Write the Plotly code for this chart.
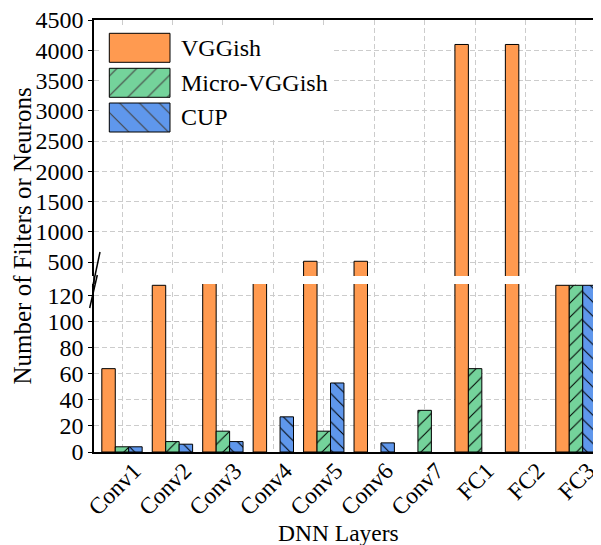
import plotly.graph_objects as go

# ---- data ----
layers = ["Conv1", "Conv2", "Conv3", "Conv4", "Conv5", "Conv6", "Conv7", "FC1", "FC2", "FC3"]
vggish = [64, 128, 256, 256, 512, 512, 0, 4096, 4096, 128]
micro_vggish = [4, 8, 16, 0, 16, 0, 32, 64, 0, 128]
cup = [4, 6, 8, 27, 53, 7, 0, 0, 0, 128]
series_names = ["VGGish", "Micro-VGGish", "CUP"]

low_ticks = [0, 20, 40, 60, 80, 100, 120]
high_ticks = [500, 1000, 1500, 2000, 2500, 3000, 3500, 4000, 4500]

# ---- styling ----
OFF = 8  # page body margin of the browser
W, H = 601 - OFF, 545 - OFF
PLOT_L, PLOT_R, PLOT_T, PLOT_B = 94, 600, 20, 452  # target window pixels
L, R, T, B = PLOT_L - OFF, W - (PLOT_R - OFF), PLOT_T - OFF, H - (PLOT_B - OFF)
PW, PH = W - L - R, H - T - B
FONT = "Liberation Serif"
colors = ["#FF9A50", "#74D39B", "#5F97EC"]
hatches = ["", "/", "\\"]


def px_x(x):
    return (x - PLOT_L) / PW


def px_y(y):
    return (PLOT_B - y) / PH


low_dom = [0, px_y(284)]
high_dom = [px_y(276), 1]

fig = go.Figure()
values = [vggish, micro_vggish, cup]
for xa, ya in [("x", "y"), ("x2", "y2")]:
    for name, vals, col, hat in zip(series_names, values, colors, hatches):
        fig.add_trace(go.Bar(
            x=layers, y=vals, name=name, xaxis=xa, yaxis=ya, showlegend=False,
            marker=dict(color=col,
                        line=dict(color="black", width=[1 if v else 0 for v in vals]),
                        pattern=dict(shape=hat, fgcolor="black", bgcolor=col,
                                     size=10, solidity=0.1, fgopacity=1)),
        ))

# legend patches on a hidden helper axis
box_x0, box_x1, box_y0, box_y1 = 101, 333, 25, 138
patch_x0, patch_x1 = 109.3, 170
patch_centers = [47.8, 82.8, 117.5]
fig.add_trace(go.Bar(
    y=patch_centers, x=[(patch_x1 - patch_x0) / (box_x1 - box_x0)] * 3,
    base=(patch_x0 - box_x0) / (box_x1 - box_x0), orientation="h", width=29,
    xaxis="x3", yaxis="y3", showlegend=False, hoverinfo="skip",
    marker=dict(color=colors, line=dict(color="black", width=1),
                pattern=dict(shape=hatches, fgcolor="black", bgcolor=colors,
                             size=14, solidity=0.08, fgopacity=1)),
))

grid = dict(showgrid=True, gridcolor="#cccccc", griddash="5px,3px", gridwidth=1)
axfont = dict(family=FONT, size=24, color="black")

fig.update_layout(
    width=W, height=H, margin=dict(l=L, r=R, t=T, b=B, pad=0),
    paper_bgcolor="white", plot_bgcolor="white",
    barmode="group", bargap=0.2, bargroupgap=0,
    font=dict(family=FONT, size=24, color="black"),
    xaxis=dict(domain=[0, 1], anchor="y", range=[-0.555, 9.476],
               tickangle=-45, tickfont=dict(family=FONT, size=23.5, color="black"),
               ticklabelshift=12, ticklabelstandoff=-6,
               ticks="", showline=True,
               linecolor="black", linewidth=1.5, automargin=False, **grid),
    xaxis2=dict(domain=[0, 1], anchor="y2", matches="x", side="top",
                showticklabels=False, ticks="", showline=True,
                linecolor="black", linewidth=1.5, automargin=False, **grid),
    yaxis=dict(domain=low_dom, anchor="x", range=[0, 129], tickvals=low_ticks,
               tickfont=axfont, ticks="outside", ticklen=4, tickcolor="black",
               ticklabeloverflow="allow",
               showline=True, linecolor="black", linewidth=1.5, zeroline=False,
               automargin=False, **grid),
    yaxis2=dict(domain=high_dom, anchor="x2", range=[268.6, 4500.5], tickvals=high_ticks,
                tickfont=axfont, ticks="outside", ticklen=4, tickcolor="black",
                ticklabeloverflow="allow",
                showline=True, linecolor="black", linewidth=1.5, zeroline=False,
                automargin=False, **grid),
    xaxis3=dict(domain=[px_x(box_x0), px_x(box_x1)], anchor="y3", range=[0, 1],
                visible=False, fixedrange=True),
    yaxis3=dict(domain=[px_y(box_y1), px_y(box_y0)], anchor="x3",
                range=[box_y1, box_y0], visible=False, fixedrange=True),
)

shapes = [
    # legend background
    dict(type="rect", xref="x3 domain", yref="y3 domain", x0=0, x1=1, y0=0, y1=1,
         fillcolor="white", line=dict(width=0), layer="below"),
    # spine through the break gap
    dict(type="line", xref="paper", yref="paper", x0=0, x1=0,
         y0=low_dom[1], y1=high_dom[0], line=dict(color="black", width=1.5)),
]
for dx in (0, PLOT_R - PLOT_L):
    for (xa, ya, xb, yb) in [(100, 252, 92.6, 287), (97.3, 275, 89.7, 308)]:
        shapes.append(dict(type="line", xref="paper", yref="paper",
                           x0=px_x(xa + dx), y0=px_y(ya), x1=px_x(xb + dx), y1=px_y(yb),
                           line=dict(color="black", width=1.5)))
fig.update_layout(shapes=shapes)

annotations = [
    dict(text="DNN Layers", xref="paper", yref="paper", x=px_x(338), y=px_y(533),
         showarrow=False, xanchor="center", yanchor="middle",
         font=dict(family=FONT, size=23.5, color="black")),
    dict(text="Number of Filters or Neurons", xref="paper", yref="paper",
         x=px_x(22), y=px_y(236.5), textangle=-90, showarrow=False,
         xanchor="center", yanchor="middle",
         font=dict(family=FONT, size=25, color="black")),
]
for name, cy in zip(series_names, patch_centers):
    annotations.append(dict(text=name, xref="paper", yref="paper", x=px_x(179),
                            y=px_y(cy), showarrow=False, xanchor="left",
                            yanchor="middle", font=dict(family=FONT, size=24, color="black")))
fig.update_layout(annotations=annotations)

fig.write_html("out.html")
